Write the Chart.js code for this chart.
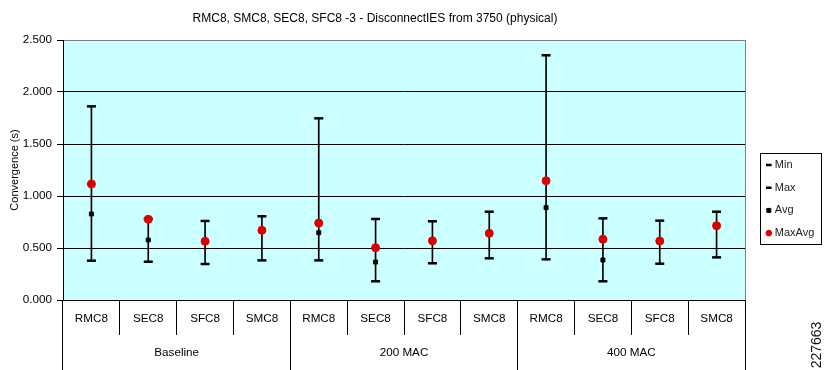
<!DOCTYPE html>
<html><head><meta charset="utf-8">
<script src="https://cdn.jsdelivr.net/npm/chart.js@4/dist/chart.umd.min.js"></script>
<style>html,body{margin:0;padding:0;background:#fff}</style>
</head><body>
<canvas id="c" width="824" height="370"></canvas>
<script>
const categories = ['RMC8','SEC8','SFC8','SMC8','RMC8','SEC8','SFC8','SMC8','RMC8','SEC8','SFC8','SMC8'];
const groups = ['Baseline','200 MAC','400 MAC'];
const minVals    = [0.378,0.368,0.346,0.381, 0.381,0.180,0.353,0.401, 0.391,0.180,0.349,0.410];
const maxVals    = [1.862,0.780,0.760,0.805, 1.747,0.779,0.757,0.849, 2.353,0.785,0.763,0.849];
const avgVals    = [0.827,0.577,0.564,0.670, 0.647,0.365,0.570,0.641, 0.888,0.385,0.567,0.714];
const maxAvgVals = [1.115,0.776,0.564,0.670, 0.740,0.503,0.570,0.641, 1.147,0.584,0.567,0.714];
const yTicks = [0, 0.5, 1.0, 1.5, 2.0, 2.5];
const titleText = 'RMC8, SMC8, SEC8, SFC8 -3 - DisconnectIES from 3750 (physical)';
const yTitle = 'Convergence (s)';
const sideId = '227663';

const ranges = minVals.map((v, i) => [v, maxVals[i]]);

Chart.defaults.font.family = "'Liberation Sans', Arial, sans-serif";
Chart.defaults.color = '#000';

const plotBg = {
  id: 'plotBg',
  beforeDraw(chart) {
    const {ctx, chartArea: a} = chart;
    ctx.save();
    ctx.fillStyle = '#ccffff';
    ctx.fillRect(a.left, a.top, a.right - a.left, a.bottom - a.top);
    ctx.strokeStyle = '#808080';
    ctx.lineWidth = 1;
    ctx.strokeRect(a.left + 0.5, a.top + 0.5, a.right - a.left, a.bottom - a.top);
    ctx.restore();
  }
};

const placeBlocks = {
  id: 'placeBlocks',
  afterLayout(chart) {
    const l = chart.legend;
    l.left = 756.6; l.right = 824; l.top = 147.8; l.bottom = 370;
    l.width = l.right - l.left; l.height = l.bottom - l.top;
    const t = chart.titleBlock;
    if (t) { t.left = 0; t.right = 750; t.width = 750; }
  },
  afterDraw(chart) {
    const ctx = chart.ctx;
    ctx.save();
    ctx.strokeStyle = '#000';
    ctx.lineWidth = 1;
    ctx.strokeRect(760.5, 153.5, 61, 91);
    ctx.translate(817, 345);
    ctx.rotate(-Math.PI / 2);
    ctx.font = "14px 'Liberation Sans', Arial, sans-serif";
    ctx.fillStyle = '#111';
    ctx.textAlign = 'center';
    ctx.textBaseline = 'middle';
    ctx.fillText(sideId, 0, 0);
    ctx.restore();
  }
};

new Chart(document.getElementById('c'), {
  type: 'bar',
  data: {
    labels: categories,
    datasets: [
      {type: 'line', label: 'Min', data: minVals, showLine: false, pointStyle: 'line',
       pointRadius: 4.5, pointBorderWidth: 2.5, borderColor: '#000', backgroundColor: '#000', order: 2},
      {type: 'line', label: 'Max', data: maxVals, showLine: false, pointStyle: 'line',
       pointRadius: 4.5, pointBorderWidth: 2.5, borderColor: '#000', backgroundColor: '#000', order: 3},
      {type: 'line', label: 'Avg', data: avgVals, showLine: false, pointStyle: 'rect',
       pointRadius: 2.8, pointBorderWidth: 1, borderColor: '#000', backgroundColor: '#000', order: 1},
      {type: 'line', label: 'MaxAvg', data: maxAvgVals, showLine: false, pointStyle: 'circle',
       pointRadius: 4, pointBorderWidth: 1, borderColor: '#dd0000', backgroundColor: '#dd0000', order: 0},
      {type: 'bar', label: 'Range', data: ranges, backgroundColor: '#000', borderWidth: 0,
       barThickness: 1, order: 4}
    ]
  },
  options: {
    responsive: false,
    animation: false,
    devicePixelRatio: 1,
    layout: {padding: {left: 0, right: 79, top: 0, bottom: 0}},
    plugins: {
      tooltip: {enabled: false},
      title: {
        display: true, text: titleText, color: '#000',
        font: {size: 12, weight: 'normal'},
        padding: {top: 11, bottom: 14.6}
      },
      legend: {
        display: true,
        position: 'chartArea',
        align: 'start',
        labels: {
          usePointStyle: true, boxWidth: 1, boxHeight: 4, padding: 11.7,
          color: '#222', font: {size: 11},
          filter: (item) => item.datasetIndex < 4,
          sort: (a, b) => a.datasetIndex - b.datasetIndex
        }
      }
    },
    scales: {
      x: {
        type: 'category',
        labels: categories,
        position: 'bottom',
        offset: true,
        weight: 0,
        grid: {display: true, drawOnChartArea: false, offset: true, tickLength: 35, color: '#000', lineWidth: 1},
        border: {display: true, color: '#000', width: 1},
        ticks: {font: {size: 11.7}, color: '#000', padding: -23, autoSkip: false, maxRotation: 0, minRotation: 0},
        afterFit: (s) => { s.height = 35; }
      },
      x2: {
        type: 'category',
        labels: groups,
        position: 'bottom',
        offset: true,
        weight: 1,
        grid: {display: true, drawOnChartArea: false, offset: true, tickLength: 35, color: '#000', lineWidth: 1},
        border: {display: false},
        ticks: {font: {size: 11.7}, color: '#000', padding: -24.5, autoSkip: false, maxRotation: 0, minRotation: 0},
        afterFit: (s) => { s.height = 35; }
      },
      y: {
        position: 'left',
        min: yTicks[0],
        max: yTicks[yTicks.length - 1],
        afterBuildTicks: (s) => { s.ticks = yTicks.map(v => ({value: v})); },
        ticks: {font: {size: 11.7}, color: '#000', padding: 5, callback: (v) => Number(v).toFixed(3)},
        grid: {
          color: (c) => (c.tick && c.tick.value === yTicks[yTicks.length - 1]) ? '#808080' : '#000',
          tickColor: '#000', tickLength: 6, lineWidth: 1
        },
        border: {display: true, color: '#000', width: 1},
        title: {display: true, text: yTitle, color: '#000', font: {size: 11}, padding: {top: 8.4, bottom: 0}},
        afterFit: (s) => { s.width = 63; }
      }
    }
  },
  plugins: [plotBg, placeBlocks]
});
</script>
</body></html>
